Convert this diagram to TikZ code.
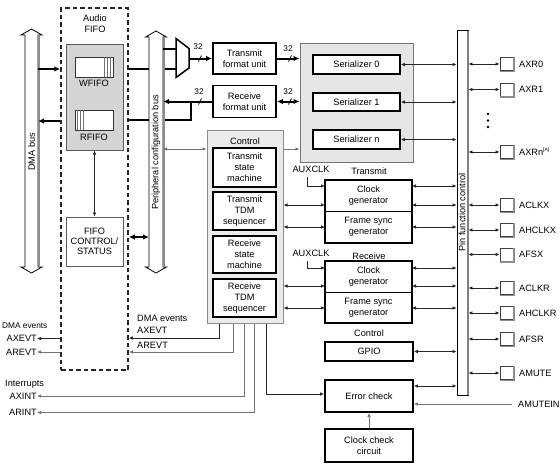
\documentclass[tikz,border=0pt]{standalone}
\usepackage{fontspec}
\setmainfont{Liberation Sans}
\usetikzlibrary{arrows.meta}
\begin{document}
\begin{tikzpicture}[x=1pt,y=-1pt,
  >={Latex[length=4pt,width=3.6pt]},
  every node/.style={inner sep=0pt, font=\fontsize{9.2}{11}\selectfont, align=center},
  tb/.style={draw=black, line width=1.7pt, fill=white},
  thinbox/.style={draw=black, line width=0.8pt, fill=white, outer sep=0pt},
  ln/.style={line width=0.9pt, draw=black!85},
  gl/.style={line width=0.9pt, draw=black!55},
  tk/.style={line width=2pt, draw=black, >={Latex[length=6pt,width=5.5pt]}},
  small/.style={font=\fontsize{8.3}{9}\selectfont},
  pinsq/.style={draw=black!75, fill=white, line width=0.8pt, minimum width=13, minimum height=13},
  bus/.style={draw=black, line width=0.8pt, fill=white}
]
\useasboundingbox (0,0) rectangle (560,467);

% ---------- Audio FIFO ----------
\node[draw=black!85, line width=1.5pt, dash pattern=on 4.5pt off 3pt, minimum width=67, minimum height=362] (afifo) at (94.5,189) {};
\node (afifol) at (95,24) {Audio\\FIFO};
\node[draw=black!65, fill=black!17, line width=1pt, minimum width=57, minimum height=106] (fifo) at (94.5,97) {};
\node[draw=black!80, fill=white, line width=0.8pt, minimum width=38, minimum height=20] (wf) at (94,67) {};
\foreach \d in {3.5,6.5,9.5} \draw[black!55, line width=0.6pt] ([xshift=-\d]wf.north east) -- ([xshift=-\d]wf.south east);
\node (wfl) at (94,83.5) {WFIFO};
\node[draw=black!80, fill=white, line width=0.8pt, minimum width=38, minimum height=20] (rf) at (94,120) {};
\foreach \d in {3,5.5,9} \draw[black!55, line width=0.6pt] ([xshift=\d]rf.north west) -- ([xshift=\d]rf.south west);
\node (rfl) at (94,137.5) {RFIFO};
\node[draw=black!65, line width=1pt, fill=white, minimum width=57, minimum height=49, font=\fontsize{9.2}{10}\selectfont] (fctl) at (94.5,241.5) {FIFO\\CONTROL/\\STATUS};
\draw[ln,<->] (fifo.south) -- (fctl.north);

% bus reference coordinates
\coordinate (dmaR) at (38,152);
\coordinate (pcbL) at (149,152);
\coordinate (pcbR) at (163,152);
\coordinate (muxin1) at (176,49);
\coordinate (muxin2) at (176,68.5);
\coordinate (muxout) at (189,58.5);

% lines passing behind the peripheral bus
\draw[tk] (afifo.east |- muxin2) -- (muxin2);
\draw[tk] (191,101.5) |- (afifo.east |- 0,120);

% ---------- buses ----------
\draw[bus] (31.5,29) -- (42,35) -- (38,35) -- (38,267) -- (42,267) -- (31.5,273) -- (21,267) -- (25,267) -- (25,35) -- (21,35) -- cycle;
\draw[black!45, line width=1.4pt] (38.8,36) -- (38.8,266);
\node[rotate=90] (dmal) at (31.5,152) {DMA bus};
\draw[bus] (156,31) -- (166.5,37) -- (163,37) -- (163,267) -- (166.5,267) -- (156,273) -- (145.5,267) -- (149,267) -- (149,37) -- (145.5,37) -- cycle;
\draw[black!45, line width=1.4pt] (163.8,38) -- (163.8,266);
\node[rotate=90] (pcbl) at (156,152.5) {Peripheral configuration bus};

% DMA <-> FIFO
\draw[tk,->] (dmaR |- 0,69) -- (afifo.west |- 0,69);
\draw[tk,->] (afifo.west |- 0,121) -- (dmaR |- 0,121);
\draw[tk,<->] (afifo.east |- 0,237) -- (pcbL |- 0,237);

% ---------- mux and format units ----------
\draw[tk] (pcbR |- muxin1) -- (muxin1);
\draw[line width=1.5pt, fill=white] (176,38.5) -- (189,48.5) -- (189,68) -- (176,77.5) -- cycle;
\node[tb, minimum width=63, minimum height=31] (tfu) at (244.5,58.5) {Transmit\\format unit};
\node[tb, minimum width=63, minimum height=32] (rfu) at (244.5,101.5) {Receive\\format unit};
\draw[tk,->] (muxout) -- (tfu.west);
\draw[tk,->] (rfu.west) -- (pcbR |- rfu.west);

% ---------- serializers ----------
\node[draw=black!55, fill=black!10, line width=1pt, minimum width=113, minimum height=119] (serbox) at (356.5,102.5) {};
\node[tb, minimum width=87, minimum height=19] (ser0) at (356.5,64.5) {Serializer 0};
\node[tb, minimum width=87, minimum height=18] (ser1) at (356.5,102) {Serializer 1};
\node[tb, minimum width=87, minimum height=19] (sern) at (356.5,139.5) {Serializer n};
\draw[tk,->] (tfu.east) -- (serbox.west |- tfu.east);
\draw[tk,<->] (rfu.east) -- (serbox.west |- rfu.east);

% bus width marks
\node[small] (n32a) at (198,46.5) {32};
\node[small] (n32b) at (288,49) {32};
\node[small] (n32c) at (199,91.5) {32};
\node[small] (n32d) at (288,91.5) {32};
\foreach \x/\y in {200/58.5, 290/58.5, 200/101.5, 290/101.5}
  \draw[line width=0.7pt] (\x-1.5,\y+3) -- (\x+1.5,\y-3);

% ---------- control ----------
\node[draw=black!45, fill=black!8, line width=1pt, minimum width=76, minimum height=193] (ctrl) at (245,226.5) {};
\node (ctrll) at (245,141) {Control};
\node[tb, minimum width=63, minimum height=39] (tsm) at (244.5,167.5) {Transmit\\state\\machine};
\node[tb, minimum width=63, minimum height=38] (ttdm) at (244.5,211) {Transmit\\TDM\\sequencer};
\node[tb, minimum width=63, minimum height=37] (rsm) at (244.5,254.5) {Receive\\state\\machine};
\node[tb, minimum width=63, minimum height=38] (rtdm) at (244.5,298) {Receive\\TDM\\sequencer};
\draw[gl,<->] (pcbR |- 0,149) -- (ctrl.west |- 0,149);
\draw[gl,->] (ctrl.east |- 0,149) -- (serbox.west |- 0,149);

% ---------- pin function control ----------
\node[draw=black, line width=0.8pt, fill=white, minimum width=11, minimum height=365] (pin) at (462.5,212.5) {};
\draw[black!50, line width=2pt] (468,30.5) -- (468,395);
\node[rotate=90] (pinl) at (462,212.5) {Pin function control};

\draw[ln,<->] (ser0.east) -- (pin.west |- ser0.east);
\draw[ln,<->] (ser1.east) -- (pin.west |- ser1.east);
\draw[ln,<->] (sern.east) -- (pin.west |- sern.east);

% pins
\foreach \n/\y/\t in {p0/64/AXR0, p1/89.5/AXR1, pn/152/{AXRn\textsuperscript{\fontsize{5}{5}\selectfont[A]}}, aclkx/205/ACLKX, ahclkx/230/AHCLKX, afsx/254.5/AFSX, aclkr/288/ACLKR, ahclkr/313/AHCLKR, afsr/339/AFSR, amute/373/AMUTE}{
  \node[pinsq] (\n) at (506.5,\y) {};
  \draw[black!45, line width=1.2pt] ([xshift=0.6]\n.north east) -- ([xshift=0.6,yshift=-0.6]\n.south east) -- ([yshift=-0.6]\n.south west);
  \node[anchor=west] (\n l) at (519,\y) {\t};
  \draw[ln,<->] (pin.east |- \n) -- (\n.west);
}
\foreach \yy in {114,120.5,127} \fill (488,\yy) circle[radius=1.3pt];

% ---------- clock generators ----------
\node (txl) at (369,171) {Transmit};
\node (auxt) at (311,169) {AUXCLK};
\node[thinbox, minimum width=87, minimum height=31] (txclk) at (368.5,195.5) {Clock\\generator};
\node[thinbox, minimum width=87, minimum height=32] (txfs) at (368.5,227) {Frame sync\\generator};
\draw[line width=1.7pt] (txclk.north west) rectangle (txfs.south east);
\node (rxl) at (369,256) {Receive};
\node (auxr) at (311,253) {AUXCLK};
\node[thinbox, minimum width=87, minimum height=31] (rxclk) at (368.5,276.5) {Clock\\generator};
\node[thinbox, minimum width=87, minimum height=31] (rxfs) at (368.5,307.5) {Frame sync\\generator};
\draw[line width=1.7pt] (rxclk.north west) rectangle (rxfs.south east);

\draw[ln,->] ([xshift=-4,yshift=-5]auxt.south) |- (txclk.west |- 0,186);
\draw[ln,->] ([xshift=-4,yshift=-5]auxr.south) |- (rxclk.west |- 0,268);

\foreach \yy in {205,227} \draw[ln,<->] (ctrl.east |- 0,\yy) -- (txclk.west |- 0,\yy);
\foreach \yy in {286,308} \draw[ln,<->] (ctrl.east |- 0,\yy) -- (rxclk.west |- 0,\yy);
\foreach \yy in {186,205,227} \draw[ln,<->] (txclk.east |- 0,\yy) -- (pin.west |- 0,\yy);
\foreach \yy in {268,286,308} \draw[ln,<->] (rxclk.east |- 0,\yy) -- (pin.west |- 0,\yy);

% ---------- GPIO, error check ----------
\node (gpiol) at (369,333) {Control};
\node[tb, minimum width=88, minimum height=19] (gpio) at (369,351.5) {GPIO};
\node[tb, minimum width=88, minimum height=32] (err) at (369,396) {Error check};
\node[tb, minimum width=88, minimum height=33] (cck) at (369,445.5) {Clock check\\circuit};
\draw[ln,<->] (gpio.east) -- (pin.west |- gpio.east);
\draw[ln,<->] (err.east |- 0,386) -- (pin.west |- 0,386);
\node[anchor=west] (amutein) at (518,404) {AMUTEIN};
\draw[gl,->] ([xshift=-6]amutein.west) -- (err.east |- amutein.west);
\draw[gl,->] (cck.north) -- (err.south);

% ---------- events and interrupts ----------
\node[anchor=west] (dmae2) at (137,318) {DMA events};
\node[anchor=west] (axevt2) at (137,330) {AXEVT};
\node[anchor=west] (arevt2) at (137,345.5) {AREVT};
\node[anchor=west, small] (dmae1) at (2,326) {DMA events};
\node[anchor=east] (axevt) at (37,338.5) {AXEVT};
\node[anchor=east] (arevt) at (37,352) {AREVT};
\node[anchor=west] (intl) at (5,384) {Interrupts};
\node[anchor=east] (axint) at (37,396) {AXINT};
\node[anchor=east] (arint) at (37,412.5) {ARINT};

\draw[ln,->] ([xshift=-26]ctrl.south) |- (afifo.east |- 0,338);
\draw[gl,->] ([xshift=-12]ctrl.south) |- (afifo.east |- 0,352);
\draw[gl,->] ([xshift=-1]ctrl.south) |- (axint.east);
\draw[gl,->] ([xshift=9]ctrl.south) |- (arint.east);
\draw[ln,->] ([xshift=21]ctrl.south) |- (err.west |- 0,394);
\draw[ln,->] (afifo.west |- axevt) -- (axevt.east);
\draw[gl,->] (afifo.west |- arevt) -- (arevt.east);
\end{tikzpicture}
\end{document}
